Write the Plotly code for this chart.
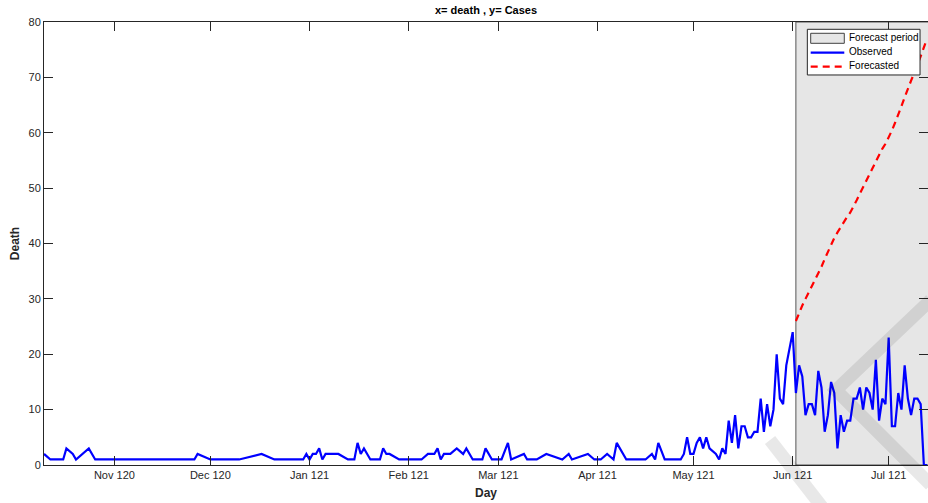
import pandas as pd
import plotly.graph_objects as go

# Observed daily deaths
obs_dates = [
    "2020-10-10", "2020-10-12", "2020-10-16", "2020-10-17", "2020-10-19", "2020-10-20",
    "2020-10-24", "2020-10-26", "2020-11-26", "2020-11-27", "2020-12-01", "2020-12-10",
    "2020-12-17", "2020-12-21", "2020-12-30", "2020-12-31", "2021-01-01", "2021-01-02",
    "2021-01-03", "2021-01-04", "2021-01-05", "2021-01-06", "2021-01-10", "2021-01-13",
    "2021-01-15", "2021-01-16", "2021-01-17", "2021-01-18", "2021-01-20", "2021-01-23",
    "2021-01-24", "2021-01-25", "2021-01-26", "2021-01-29", "2021-02-05", "2021-02-07",
    "2021-02-09", "2021-02-10", "2021-02-11", "2021-02-12", "2021-02-14", "2021-02-16",
    "2021-02-18", "2021-02-19", "2021-02-21", "2021-02-24", "2021-02-25", "2021-02-27",
    "2021-03-02", "2021-03-04", "2021-03-05", "2021-03-09", "2021-03-10", "2021-03-13",
    "2021-03-16", "2021-03-21", "2021-03-23", "2021-03-24", "2021-03-29", "2021-03-31",
    "2021-04-02", "2021-04-04", "2021-04-06", "2021-04-07", "2021-04-10", "2021-04-16",
    "2021-04-18", "2021-04-19", "2021-04-20", "2021-04-22", "2021-04-27", "2021-04-28",
    "2021-04-29", "2021-04-30", "2021-05-01", "2021-05-02", "2021-05-03", "2021-05-04",
    "2021-05-05", "2021-05-06", "2021-05-08", "2021-05-09", "2021-05-10", "2021-05-11",
    "2021-05-12", "2021-05-13", "2021-05-14", "2021-05-15", "2021-05-16", "2021-05-17",
    "2021-05-18", "2021-05-19", "2021-05-20", "2021-05-21", "2021-05-22", "2021-05-23",
    "2021-05-24", "2021-05-25", "2021-05-26", "2021-05-27", "2021-05-28", "2021-05-29",
    "2021-05-30", "2021-06-01", "2021-06-02", "2021-06-03", "2021-06-04", "2021-06-05",
    "2021-06-06", "2021-06-07", "2021-06-08", "2021-06-09", "2021-06-10", "2021-06-11",
    "2021-06-12", "2021-06-13", "2021-06-14", "2021-06-15", "2021-06-16", "2021-06-17",
    "2021-06-18", "2021-06-19", "2021-06-20", "2021-06-21", "2021-06-22", "2021-06-23",
    "2021-06-24", "2021-06-25", "2021-06-26", "2021-06-27", "2021-06-28", "2021-06-29",
    "2021-06-30", "2021-07-01", "2021-07-02", "2021-07-03", "2021-07-04", "2021-07-05",
    "2021-07-06", "2021-07-07", "2021-07-08", "2021-07-09", "2021-07-10", "2021-07-11",
    "2021-07-12", "2021-07-13",
]
obs_deaths = [
    2, 1, 1, 3, 2, 1,
    3, 1, 1, 2, 1, 1,
    2, 1, 1, 2, 1, 2,
    2, 3, 1, 2, 2, 1,
    1, 4, 2, 3, 1, 1,
    3, 2, 2, 1, 1, 2,
    2, 3, 1, 2, 2, 3,
    2, 3, 1, 1, 3, 1,
    1, 4, 1, 2, 1, 1,
    2, 1, 2, 1, 2, 1,
    1, 2, 1, 4, 1, 1,
    2, 1, 4, 1, 1, 2,
    5, 2, 2, 4, 5, 3,
    5, 3, 2, 1, 3, 2,
    8, 4, 9, 3, 7, 7,
    5, 5, 6, 6, 12, 6,
    11, 7, 10, 20, 12, 11,
    18, 24, 13, 18, 16, 9,
    11, 11, 9, 17, 14, 6,
    9, 15, 13, 3, 9, 6,
    8, 8, 12, 12, 14, 10,
    14, 13, 10, 19, 8, 12,
    11, 23, 7, 7, 13, 10,
    18, 12, 9, 12, 12, 11,
    0, 0,
]

# Forecast for the hold-out window
fc_start = "2021-06-02"
fc_end = "2021-07-13"
fc_deaths = [
    26.0, 27.5, 28.8, 30.0, 31.1, 32.2, 33.3, 34.5, 35.8, 37.2,
    38.5, 39.8, 41.0, 42.0, 43.0, 44.0, 44.8, 45.6, 46.6, 47.8,
    49.0, 50.2, 51.4, 52.6, 53.8, 55.0, 56.2, 57.1, 58.0, 59.1,
    60.4, 61.8, 63.2, 64.8, 66.4, 68.0, 69.4, 70.8, 72.2, 73.8,
    75.4, 77.0,
]
fc_dates = pd.date_range(fc_start, fc_end, freq="D")

period_x = ["2021-06-02", "2021-07-20", "2021-07-20", "2021-06-02", "2021-06-02"]
period_y = [0, 0, 80, 80, 0]

tick_dates = ["2020-11-01", "2020-12-01", "2021-01-01", "2021-02-01", "2021-03-01",
              "2021-04-01", "2021-05-01", "2021-06-01", "2021-07-01"]
tick_labels = ["Nov 120", "Dec 120", "Jan 121", "Feb 121", "Mar 121",
               "Apr 121", "May 121", "Jun 121", "Jul 121"]

legend_labels = ["Forecast period", "Observed", "Forecasted"]

FONT = "Liberation Sans, Arial, Helvetica, sans-serif"
INK = "#262626"
PATCH_FILL = "#e6e6e6"
PATCH_EDGE = "#555555"
BLUE = "#0000ff"
RED = "#ff0000"
RED_DASH = "7px,5px"

fig = go.Figure()

fig.add_trace(go.Scatter(
    x=period_x, y=period_y, mode="lines", fill="toself",
    fillcolor=PATCH_FILL, line=dict(color=PATCH_EDGE, width=1),
    name=legend_labels[0], hoverinfo="skip", showlegend=False,
))
fig.add_trace(go.Scatter(
    x=obs_dates, y=obs_deaths, mode="lines",
    line=dict(color=BLUE, width=2.2), name=legend_labels[1], showlegend=False,
))
fig.add_trace(go.Scatter(
    x=fc_dates, y=fc_deaths, mode="lines",
    line=dict(color=RED, width=2.2, dash=RED_DASH), name=legend_labels[2], showlegend=False,
))

# faint grey brush-stroke mark in the lower right corner
stroke = "rgba(0,0,0,0.09)"
fig.add_shape(type="path", xref="paper", yref="paper", layer="above",
              path="M 1.003 0.3725 L 0.8959 0.1693 L 1.003 -0.0451",
              line=dict(color=stroke, width=13))
fig.add_shape(type="path", xref="paper", yref="paper", layer="above",
              path="M 0.8213 0.0564 L 0.8846 -0.1061",
              line=dict(color=stroke, width=13))

# boxed legend in the upper right corner of the axes
lg_x0, lg_x1, lg_y0, lg_y1 = 0.8635, 0.991, 0.8804, 0.9835
sym_x0, sym_x1, txt_x = 0.8673, 0.9053, 0.9089
row_y = [0.9632, 0.9307, 0.8991]
fig.add_shape(type="rect", xref="paper", yref="paper", layer="above",
              x0=lg_x0, x1=lg_x1, y0=lg_y0, y1=lg_y1,
              fillcolor="white", line=dict(color=INK, width=1))
fig.add_shape(type="rect", xref="paper", yref="paper", layer="above",
              x0=sym_x0, x1=sym_x1, y0=row_y[0] - 0.0113, y1=row_y[0] + 0.0113,
              fillcolor=PATCH_FILL, line=dict(color="#404040", width=1))
fig.add_shape(type="line", xref="paper", yref="paper", layer="above",
              x0=sym_x0, x1=sym_x1, y0=row_y[1], y1=row_y[1],
              line=dict(color=BLUE, width=2.2))
fig.add_shape(type="line", xref="paper", yref="paper", layer="above",
              x0=sym_x0, x1=sym_x1, y0=row_y[2], y1=row_y[2],
              line=dict(color=RED, width=2.2, dash=RED_DASH))
for label, yy in zip(legend_labels, row_y):
    fig.add_annotation(xref="paper", yref="paper", x=txt_x, y=yy + 0.002,
                       text=label, showarrow=False, xanchor="left", yanchor="middle",
                       font=dict(family=FONT, size=10, color="#000000"))

axis_common = dict(
    showline=True, linecolor=INK, linewidth=1, mirror="ticks",
    ticks="inside", ticklen=9, tickwidth=1, tickcolor=INK,
    showgrid=False, zeroline=False,
    tickfont=dict(family=FONT, size=11, color=INK),
)

fig.update_xaxes(
    range=["2020-10-10", "2021-07-13 07:00"],
    tickvals=tick_dates, ticktext=tick_labels,
    title=dict(text="<b>Day</b>", font=dict(family=FONT, size=12, color=INK), standoff=8),
    **axis_common,
)
fig.update_yaxes(
    range=[0, 80], dtick=10,
    title=dict(text="<b>Death</b>", font=dict(family=FONT, size=12, color=INK), standoff=6),
    **axis_common,
)

fig.update_layout(
    width=928, height=503,
    margin=dict(l=44, r=0, t=22, b=38),
    paper_bgcolor="white", plot_bgcolor="white",
    title=dict(text="<b>x= death , y= Cases</b>", x=0.5, xref="paper", y=0.98, yanchor="middle",
               font=dict(family=FONT, size=11, color="#000000")),
    showlegend=False,
)

fig.write_html("out.html")
